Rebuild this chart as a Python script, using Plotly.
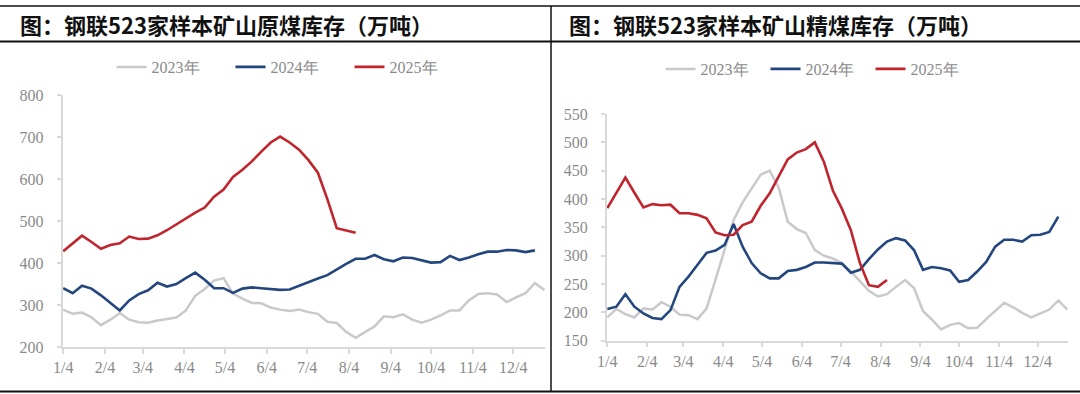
import pandas as pd
import plotly.graph_objects as go

# ---------------- data ----------------
WEEK_START = "2025-01-04"
N_WEEKS = 52
weeks = pd.date_range(WEEK_START, periods=N_WEEKS, freq="7D")

month_ticks = ["2025-%02d-04" % m for m in range(1, 13)]
month_labels = ["1/4", "2/4", "3/4", "4/4", "5/4", "6/4", "7/4", "8/4", "9/4", "10/4", "11/4", "12/4"]

series_names = ["2023年", "2024年", "2025年"]

# 原煤库存 (万吨)
raw_2023 = [289, 279, 282, 271, 252, 265, 281, 265, 259, 258, 263, 267, 270, 287, 322, 338,
            358, 364, 327, 315, 305, 304, 294, 289, 286, 289, 283, 279, 260, 257, 236, 222,
            236, 249, 273, 271, 278, 265, 258, 265, 275, 287, 287, 311, 326, 328, 325, 307,
            318, 328, 352, 336]
raw_2024 = [340, 328, 346, 339, 323, 305, 287, 311, 326, 335, 353, 344, 350, 364, 377, 360,
            340, 340, 329, 339, 342, 340, 338, 336, 337, 346, 355, 363, 371, 385, 398, 410,
            410, 419, 409, 404, 413, 412, 406, 401, 402, 417, 407, 413, 421, 427, 427, 431,
            430, 426, 430]
raw_2025 = [428, 447, 465, 450, 434, 443, 447, 463, 457, 458, 466, 478, 492, 507, 520, 532,
            558, 575, 605, 622, 642, 665, 687, 701, 687, 670, 645, 615, 552, 483, 478, 472]

# 精煤库存 (万吨)
clean_2023 = [191, 206, 197, 191, 207, 205, 218, 210, 196, 195, 188, 207, 258, 312, 363, 394,
              419, 443, 450, 420, 360, 347, 340, 310, 300, 295, 287, 272, 255, 238, 228, 232,
              245, 257, 243, 202, 187, 170, 178, 181, 172, 173, 188, 202, 217, 209, 199, 191,
              198, 205, 221, 205]
clean_2024 = [206, 210, 232, 210, 198, 190, 188, 204, 245, 263, 284, 305, 309, 319, 356, 316,
              287, 269, 260, 260, 273, 275, 280, 288, 288, 287, 286, 270, 275, 294, 311, 325,
              331, 327, 310, 275, 280, 278, 274, 254, 257, 272, 289, 316, 328, 328, 325, 336,
              337, 342, 369]
clean_2025 = [384, 412, 438, 411, 385, 391, 389, 390, 375, 375, 372, 366, 341, 336, 337, 354,
              360, 388, 410, 440, 470, 482, 488, 500, 466, 415, 383, 345, 287, 248, 245, 257]

titles = ["图：钢联523家样本矿山原煤库存（万吨）", "图：钢联523家样本矿山精煤库存（万吨）"]

# ---------------- styling ----------------
W, H = 1080, 394
colors = ["#c9c9c9", "#24467f", "#c0252e"]
widths = [2.5, 2.6, 2.6]
SERIF = "Liberation Serif, Times New Roman, DejaVu Serif, serif"
TICK_FONT = dict(family=SERIF, size=16, color="#8a8a8a")
AXIS_COLOR = "#d9d9d9"


def px_x(p):
    return p / W


def px_y(p):
    return (H - p) / H


fig = go.Figure()

panels = [
    dict(data=[raw_2023, raw_2024, raw_2025], xa="x", ya="y", legend="legend"),
    dict(data=[clean_2023, clean_2024, clean_2025], xa="x2", ya="y2", legend="legend2"),
]

for panel in panels:
    for name, vals, col, lw in zip(series_names, panel["data"], colors, widths):
        fig.add_trace(go.Scatter(
            x=weeks[:len(vals)], y=vals, name=name, mode="lines",
            line=dict(color=col, width=lw),
            xaxis=panel["xa"], yaxis=panel["ya"], legend=panel["legend"],
            hoverinfo="skip",
        ))

xaxis_common = dict(
    type="date", range=["2025-01-03 12:00", "2025-12-27 12:00"],
    tickmode="array", tickvals=month_ticks, ticktext=month_labels,
    showline=True, linecolor=AXIS_COLOR, linewidth=1.5,
    ticks="outside", ticklen=5, tickcolor=AXIS_COLOR, tickwidth=1.5,
    showgrid=False, zeroline=False, tickfont=TICK_FONT, fixedrange=True,
    automargin=False,
)
yaxis_common = dict(
    showline=True, linecolor=AXIS_COLOR, linewidth=1.5,
    ticks="outside", ticklen=4, tickcolor=AXIS_COLOR, tickwidth=1.5,
    showgrid=False, zeroline=False, tickfont=TICK_FONT, ticklabelstandoff=10,
    fixedrange=True, automargin=False,
)

legend_font = dict(family=SERIF, size=16, color="#8a8a8a")

fig.update_layout(
    width=W, height=H,
    margin=dict(l=0, r=0, t=0, b=0),
    paper_bgcolor="white", plot_bgcolor="white",
    showlegend=True,
    xaxis=dict(domain=[px_x(62.5), px_x(545)], anchor="y", **xaxis_common),
    yaxis=dict(domain=[px_y(347), px_y(95)], anchor="x", range=[200, 800], dtick=100,
               **yaxis_common),
    xaxis2=dict(domain=[px_x(606.7), px_x(1068)], anchor="y2", **xaxis_common),
    yaxis2=dict(domain=[px_y(340.7), px_y(114)], anchor="x2", range=[150, 550], dtick=50,
                **yaxis_common),
    legend=dict(orientation="h", x=px_x(290), xanchor="center", y=px_y(67), yanchor="middle",
                font=legend_font, bgcolor="rgba(0,0,0,0)", itemwidth=30,
                entrywidth=74, entrywidthmode="pixels", traceorder="normal"),
    legend2=dict(orientation="h", x=px_x(818), xanchor="center", y=px_y(69), yanchor="middle",
                 font=legend_font, bgcolor="rgba(0,0,0,0)", itemwidth=30,
                 entrywidth=60, entrywidthmode="pixels", traceorder="normal"),
)

# titles
for tx, text in zip([18, 567], titles):
    fig.add_annotation(
        x=px_x(tx), y=px_y(24), xref="paper", yref="paper",
        xanchor="left", yanchor="middle", showarrow=False, text="<b>%s</b>" % text,
        font=dict(family="Noto Sans CJK SC", size=22, color="#111111"),
    )

# frame lines
fig.add_shape(type="line", xref="paper", yref="paper", x0=0, x1=1, y0=px_y(6), y1=px_y(6),
              line=dict(color="#111111", width=1.5))
fig.add_shape(type="line", xref="paper", yref="paper", x0=0, x1=1, y0=px_y(41.5), y1=px_y(41.5),
              line=dict(color="#111111", width=2.2))
fig.add_shape(type="line", xref="paper", yref="paper", x0=0, x1=1, y0=px_y(391.5), y1=px_y(391.5),
              line=dict(color="#111111", width=2.2))
fig.add_shape(type="line", xref="paper", yref="paper", x0=px_x(551), x1=px_x(551),
              y0=px_y(6), y1=px_y(391.5), line=dict(color="#111111", width=1.5))

fig.write_html("out.html", config={"displayModeBar": False},
               post_script="document.body.style.margin='0';")
